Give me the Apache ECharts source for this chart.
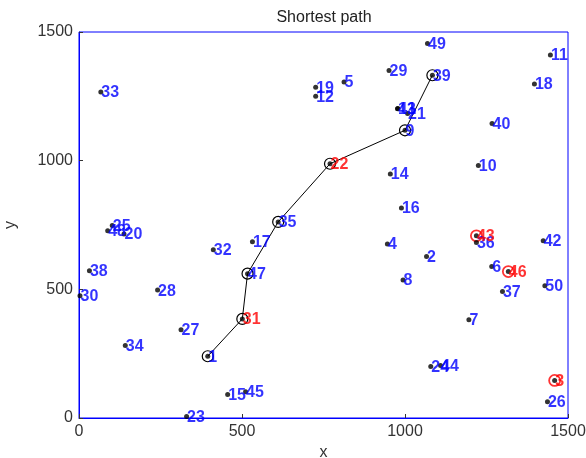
<!DOCTYPE html>
<html>
<head>
<meta charset="utf-8">
<script src="https://cdn.jsdelivr.net/npm/echarts@6/dist/echarts.min.js"></script>
<style>html,body{margin:0;padding:0;background:#fff}#c{width:586px;height:458px}</style>
</head>
<body>
<div id="c"></div>
<script>
var ids = [1,2,3,4,5,6,7,8,9,10,11,12,13,14,15,16,17,18,19,20,21,22,23,24,25,26,27,28,29,30,31,32,33,34,35,36,37,38,39,40,41,42,43,44,45,46,47,48,49,50];
var xs = [395,1066,1459,946,813,1266,1196,994,1000,1225,1446,726,977,955,456,989,532,1397,726,138,1008,770,330,1079,102,1437,313,241,951,3,501,412,67,142,611,1219,1299,32,1084,1267,978,1424,1219,1109,511,1317,517,88,1069,1429];
var ys = [240,628,146,676,1306,589,382,536,1118,981,1411,1250,1202,948,91,816,685,1298,1285,715,1183,988,6,200,748,63,343,497,1350,475,385,654,1267,282,762,682,492,572,1332,1144,1203,689,708,204,102,569,561,728,1455,514];
var redIds = [3,22,31,43,46];
var redCircleIds = [3,43,46];
var pathIds = [1,31,47,35,22,9,39];
var xTicks = [0,500,1000,1500];
var yTicks = [0,500,1000,1500];

function pt(id){ var i = ids.indexOf(id); return [xs[i], ys[i]]; }

var dotData = ids.map(function(id, i){
  var red = redIds.indexOf(id) >= 0;
  return { value:[xs[i], ys[i]], name:String(id),
    label:{ color: red ? '#ff0000' : '#0000ff' } };
});

var chart = echarts.init(document.getElementById('c'), null, {renderer:'canvas'});
var axisText = {color:'#333', fontSize:16, fontFamily:'Liberation Sans'};
chart.setOption({
  animation:false,
  backgroundColor:'#fff',
  title:{ text:'Shortest path', left:319, top:5, textAlign:'center',
    textStyle:{ fontSize:16, fontWeight:'normal', color:'#222', fontFamily:'Liberation Sans'} },
  grid:{ left:79, top:32, right:18, bottom:40, containLabel:false, outerBoundsMode:'none',
    show:true, borderColor:'#0000ff', borderWidth:1 },
  xAxis:{ type:'value', min:xTicks[0], max:xTicks[xTicks.length-1], interval:500,
    name:'x', nameLocation:'middle', nameGap:24, nameTextStyle:axisText,
    axisLine:{ show:true, lineStyle:{color:'#0000ff'} },
    axisTick:{ show:true, inside:true, length:4, lineStyle:{color:'#333'} },
    axisLabel:{ margin:6, color:'#333', fontSize:16, fontFamily:'Liberation Sans',
      formatter:function(v){ return String(v); } },
    splitLine:{ show:false } },
  yAxis:{ type:'value', min:yTicks[0], max:yTicks[yTicks.length-1], interval:500,
    name:'y', nameLocation:'middle', nameGap:60, nameRotate:90, nameTextStyle:axisText,
    axisLine:{ show:true, lineStyle:{color:'#0000ff'} },
    axisTick:{ show:true, inside:true, length:4, lineStyle:{color:'#333'} },
    axisLabel:{ margin:6, color:'#333', fontSize:16, fontFamily:'Liberation Sans',
      formatter:function(v){ return String(v); } },
    splitLine:{ show:false } },
  series:[
    { type:'line', data: pathIds.map(pt), symbol:'circle', symbolSize:11, showSymbol:true,
      lineStyle:{ color:'#000', width:1 },
      itemStyle:{ color:'rgba(0,0,0,0)', borderColor:'#000', borderWidth:1.2 },
      z:2 },
    { type:'scatter', data: redCircleIds.map(pt), symbol:'circle', symbolSize:11,
      itemStyle:{ color:'rgba(0,0,0,0)', borderColor:'#ff0000', borderWidth:1.8 }, z:3 },
    { type:'scatter', data: dotData, symbol:'circle', symbolSize:5,
      itemStyle:{ color:'#000' }, z:4,
      label:{ show:true, position:'right', distance:0, offset:[-2,1], formatter:'{b}',
        fontSize:16, fontWeight:'bold', fontFamily:'Liberation Sans' } }
  ]
});
</script>
</body>
</html>
